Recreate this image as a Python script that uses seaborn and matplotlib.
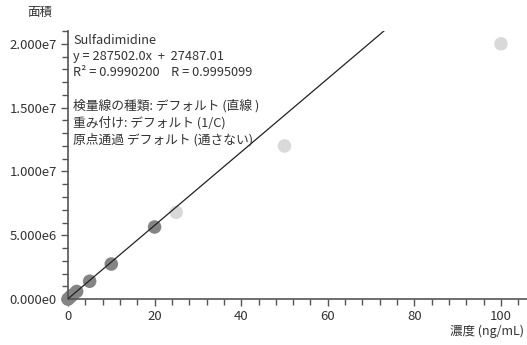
import numpy as np
import pandas as pd
import seaborn as sns
import matplotlib.pyplot as plt
from matplotlib.ticker import MultipleLocator

# calibration data
conc = [0, 0.5, 1, 2, 5, 10, 20, 25, 50, 100]
area = [0, 1.6e5, 3.2e5, 6.0e5, 1.40e6, 2.75e6, 5.65e6, 6.8e6, 1.20e7, 2.0e7]
status = ["used"] * 7 + ["excluded"] * 3

slope = 287502.0
intercept = 27487.01

info_lines = [
    "Sulfadimidine",
    "y = 287502.0x  +  27487.01",
    "R² = 0.9990200    R = 0.9995099",
    "",
    "検量線の種類: デフォルト (直線 )",
    "重み付け: デフォルト (1/C)",
    "原点通過 デフォルト (通さない)",
]

df = pd.DataFrame({"conc": conc, "area": area, "status": status})

sns.set_style("white")
plt.rcParams['font.family'] = ['Noto Sans CJK JP', 'DejaVu Sans']

fig = plt.figure(figsize=(5.27, 3.45), dpi=100)
ax = fig.add_axes([0.129, 0.133, 0.871, 0.777])

# regression line
xl = np.array([0, 106])
ax.plot(xl, slope * xl + intercept, color="#222222", lw=0.9, zorder=3)

sns.scatterplot(data=df, x="conc", y="area", hue="status",
                palette={"used": "#848484", "excluded": "#d9d9d9"},
                s=95, linewidth=0, legend=False, ax=ax, zorder=2, clip_on=False)

ax.set_xlim(0, 106)
ax.set_ylim(0, 2.1e7)
ax.xaxis.set_major_locator(MultipleLocator(20))
ax.xaxis.set_minor_locator(MultipleLocator(4))
ax.yaxis.set_major_locator(MultipleLocator(5e6))
ax.yaxis.set_minor_locator(MultipleLocator(1e6))
ax.set_yticklabels([f"{v:.3e}".replace("e+0", "e").replace("e+", "e") for v in ax.get_yticks()])

for s in ["top", "right"]:
    ax.spines[s].set_visible(False)
for s in ["left", "bottom"]:
    ax.spines[s].set_color("#555555")
    ax.spines[s].set_linewidth(1.2)
ax.tick_params(which="both", direction="out", color="#555555", labelcolor="#333333",
               labelsize=9.5, width=1, bottom=True, left=True)
ax.tick_params(which="major", length=5, pad=3)
ax.tick_params(which="minor", length=4)

ax.set_xlabel("")
ax.set_ylabel("")
fig.text(40 / 527, 1 - 12 / 345, "面積", fontsize=9, color="#333333", ha="center", va="center")
fig.text(1 - 3 / 527, 1 - 331 / 345, "濃度 (ng/mL)", fontsize=9, color="#333333", ha="right", va="center")

ax.text(0.012, 0.99, "\n".join(info_lines), transform=ax.transAxes, va="top", ha="left",
        fontsize=9.2, color="#333333", linespacing=1.33)

fig.savefig("out.png", dpi=100)
